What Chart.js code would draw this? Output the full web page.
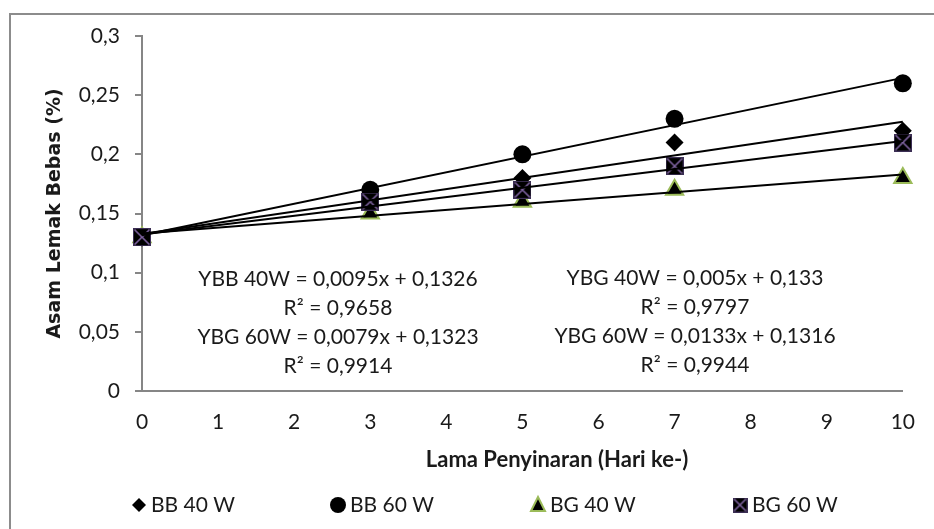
<!DOCTYPE html>
<html>
<head>
<meta charset="utf-8">
<script src="https://cdn.jsdelivr.net/npm/chart.js@4.4.0/dist/chart.umd.min.js"></script>
<style>
html, body { margin: 0; padding: 0; background: #fff; overflow: hidden; }
#wrap { position: relative; width: 934px; height: 529px; }
</style>
</head>
<body>
<div id="wrap"><canvas id="c" width="934" height="529"></canvas></div>
<script>
// values
const xValues = [0, 3, 5, 7, 10];
const seriesNames = ['BB 40 W', 'BB 60 W', 'BG 40 W', 'BG 60 W'];
const bb40 = [0.13, 0.16, 0.18, 0.21, 0.22];
const bb60 = [0.13, 0.17, 0.20, 0.23, 0.26];
const bg40 = [0.13, 0.15, 0.16, 0.17, 0.18];
const bg60 = [0.13, 0.16, 0.17, 0.19, 0.21];

// linear trendlines as printed on the chart (same order as seriesNames)
const trendSlopes = [0.0095, 0.0133, 0.005, 0.0079];
const trendIntercepts = [0.1326, 0.1316, 0.133, 0.1323];

const leftLabels = ['YBB 40W = 0,0095x + 0,1326', 'R² = 0,9658', 'YBG 60W = 0,0079x + 0,1323', 'R² = 0,9914'];
const rightLabels = ['YBG 40W = 0,005x + 0,133', 'R² = 0,9797', 'YBG 60W = 0,0133x + 0,1316', 'R² = 0,9944'];

const yTickLabels = ['0', '0,05', '0,1', '0,15', '0,2', '0,25', '0,3'];
const xTickLabels = ['0', '1', '2', '3', '4', '5', '6', '7', '8', '9', '10'];
const xTitle = 'Lama Penyinaran (Hari ke-)';
const yTitle = 'Asam Lemak Bebas (%)';

const TXT = '#1a1a1a', AXIS = '#868686', GREEN = '#9bbb59', PURPLE = '#8064a2';
const FONT = 'Lato';

function boxX(size) {
    const c = document.createElement('canvas'); c.width = size; c.height = size;
    const g = c.getContext('2d');
    g.fillStyle = '#000'; g.fillRect(0, 0, size, size);
    g.strokeStyle = PURPLE; g.lineWidth = 1.6;
    g.beginPath(); g.moveTo(1.5, 1.5); g.lineTo(size - 1.5, size - 1.5); g.moveTo(size - 1.5, 1.5); g.lineTo(1.5, size - 1.5); g.stroke();
    g.strokeStyle = '#3c2f55'; g.lineWidth = 1; g.strokeRect(0.5, 0.5, size - 1, size - 1);
    return c;
}

const pts = arr => xValues.map((x, i) => ({ x, y: arr[i] }));
const xMin = Math.min(...xValues), xMax = Math.max(...xValues);
const trend = i => [{ x: xMin, y: trendIntercepts[i] + trendSlopes[i] * xMin }, { x: xMax, y: trendIntercepts[i] + trendSlopes[i] * xMax }];

const markerSets = [
    { label: seriesNames[0], data: pts(bb40), pointStyle: 'rectRot', pointRadius: 9, backgroundColor: '#000', borderColor: '#000', borderWidth: 0, order: 4 },
    { label: seriesNames[1], data: pts(bb60), pointStyle: 'circle', pointRadius: 9, backgroundColor: '#000', borderColor: '#000', borderWidth: 0, order: 3 },
    { label: seriesNames[2], data: pts(bg40), pointStyle: 'triangle', pointRadius: 10, backgroundColor: '#000', borderColor: GREEN, borderWidth: 2, order: 2 },
    { label: seriesNames[3], data: pts(bg60), pointStyle: boxX(18), pointRadius: 9, backgroundColor: '#000', borderColor: '#000', borderWidth: 0, order: 1 }
];
const trendSets = seriesNames.map((n, i) => ({ label: 'trend ' + n, data: trend(i), showLine: true, pointRadius: 0, borderColor: '#000', borderWidth: 2, order: 0 }));

const extras = {
    id: 'extras',
    beforeDraw(chart) {
        const ctx = chart.ctx; ctx.save();
        ctx.strokeStyle = '#8c8c8c'; ctx.lineWidth = 2;
        ctx.strokeRect(10, 14, 1000, 600);
        ctx.restore();
    },
    afterDraw(chart) {
        const ctx = chart.ctx; ctx.save();
        ctx.fillStyle = TXT; ctx.textAlign = 'center'; ctx.textBaseline = 'middle';
        ctx.font = `21px ${FONT}`;
        const rows = [279, 308, 337, 366];
        leftLabels.forEach((t, i) => ctx.fillText(t, 338, rows[i]));
        rightLabels.forEach((t, i) => ctx.fillText(t, 695, rows[i] - 1));
        ctx.font = `bold 22px ${FONT}`;
        ctx.fillText(xTitle, 557, 460);
        // legend
        const lx = [139, 338, 538, 740], ly = 505;
        ctx.textAlign = 'left'; ctx.font = `21px ${FONT}`;
        seriesNames.forEach((n, i) => {
            const x = lx[i];
            ctx.fillStyle = '#000';
            ctx.beginPath();
            if (i === 0) { ctx.moveTo(x - 7, ly); ctx.lineTo(x, ly - 7); ctx.lineTo(x + 7, ly); ctx.lineTo(x, ly + 7); ctx.closePath(); ctx.fill(); }
            if (i === 1) { ctx.arc(x, ly, 8, 0, Math.PI * 2); ctx.fill(); }
            if (i === 2) { ctx.moveTo(x, ly - 8); ctx.lineTo(x + 7, ly + 6); ctx.lineTo(x - 7, ly + 6); ctx.closePath(); ctx.fill(); ctx.strokeStyle = GREEN; ctx.lineWidth = 2; ctx.stroke(); }
            if (i === 3) ctx.drawImage(boxX(15), x - 7.5, ly - 7.5);
            ctx.fillStyle = TXT;
            ctx.fillText(n, x + 12, ly);
        });
        ctx.restore();
    }
};

new Chart(document.getElementById('c'), {
    type: 'scatter',
    data: { datasets: [...trendSets, ...markerSets].map(d => ({ clip: false, ...d })) },
    options: {
        responsive: false, animation: false, devicePixelRatio: 1,
        layout: { padding: { left: 0, top: 36, right: 23, bottom: 57 } },
        plugins: { legend: { display: false }, tooltip: { enabled: false } },
        scales: {
            x: {
                type: 'linear', min: 0, max: 10,
                afterFit: s => { s.height = 81; },
                grid: { display: false, drawTicks: false },
                border: { display: true, color: AXIS, width: 2 },
                ticks: { stepSize: 1, padding: 19, color: TXT, font: { family: FONT, size: 21 }, callback: (v, i) => xTickLabels[i] }
            },
            y: {
                min: 0, max: 0.3,
                afterFit: s => { s.width = 142; },
                grid: { display: true, drawOnChartArea: false, drawTicks: true, tickLength: 7, color: AXIS, lineWidth: 2 },
                border: { display: true, color: AXIS, width: 2 },
                ticks: { stepSize: 0.05, padding: 15, color: TXT, font: { family: FONT, size: 21 }, callback: (v, i) => yTickLabels[i] },
                title: { display: true, text: yTitle, color: TXT, font: { family: 'DejaVu Sans', size: 19, weight: 'bold', lineHeight: 1.2 }, padding: { top: 44, bottom: 0 } }
            }
        }
    },
    plugins: [extras]
});
</script>
</body>
</html>
